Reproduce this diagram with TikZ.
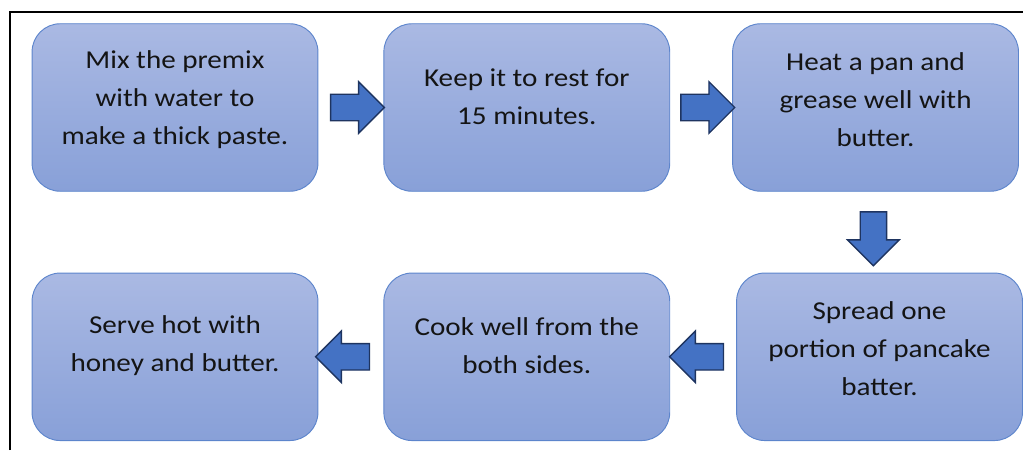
\documentclass[tikz,border=0pt]{standalone}
\usepackage{fontspec}
\setmainfont{Carlito}[FakeStretch=1.13]
\usetikzlibrary{positioning,calc,shapes.arrows}
\definecolor{boxtop}{RGB}{170,185,227}
\definecolor{boxbottom}{RGB}{136,160,216}
\definecolor{boxline}{RGB}{93,133,204}
\definecolor{arrowfill}{RGB}{68,114,196}
\definecolor{arrowline}{RGB}{30,52,96}
\tikzset{
  stepbox/.style={rounded corners=24pt, top color=boxtop, bottom color=boxbottom,
    draw=boxline, line width=0.8pt, minimum width=244pt, minimum height=143pt},
  steptext/.style={align=center, font=\fontsize{22}{32.4}\selectfont, text=black!92},
  blockarrow/.style={single arrow, fill=arrowfill, draw=arrowline, line width=1.2pt,
    inner xsep=0pt, inner ysep=10.7pt, minimum height=46pt, single arrow head extend=10.7pt}
}
\begin{document}
\begin{tikzpicture}[x=0.8536pt,y=-0.8536pt]
  \useasboundingbox (0,0) rectangle (1023,450);
  \draw[line width=2pt] (10,450) -- (10,12) -- (1023,12); % frame

  % steps
  \node[stepbox] (mix) at (175,107.5) {};
  \node[stepbox, right=55.5pt of mix] (rest) {};
  \node[stepbox, right=52.9pt of rest] (heat) {};
  \node[stepbox, below=69pt of heat, xshift=3.4pt] (spread) {};
  \node[stepbox, left=56.3pt of spread] (cook) {};
  \node[stepbox, left=55.5pt of cook] (serve) {};

  \node[steptext] at ([yshift=7pt]mix.center) {Mix the premix\\with water to\\make a thick paste.};
  \node[steptext] at ([yshift=9pt]rest.center) {Keep it to rest for\\15 minutes.};
  \node[steptext] at ([yshift=7pt]heat.center) {Heat a pan and\\grease well with\\butter.};
  \node[steptext] at ([yshift=7pt]spread.center) {Spread one\\portion of pancake\\batter.};
  \node[steptext] at ([yshift=9.5pt]cook.center) {Cook well from the\\both sides.};
  \node[steptext] at ([yshift=9.5pt]serve.center) {Serve hot with\\honey and butter.};

  % arrows
  \node[blockarrow] (a1) at ($(mix.east)!0.5!(rest.west)$) {};
  \node[blockarrow] (a2) at ($(rest.east)!0.5!(heat.west)$) {};
  \node[blockarrow, rotate=-90, yshift=-3.5pt] (a3) at ($(heat.south)!0.5!(spread.north)$) {};
  \node[blockarrow, rotate=180] (a4) at ($(spread.west)!0.5!(cook.east)$) {};
  \node[blockarrow, rotate=180, xshift=1.5pt] (a5) at ($(cook.west)!0.5!(serve.east)$) {};
\end{tikzpicture}
\end{document}
